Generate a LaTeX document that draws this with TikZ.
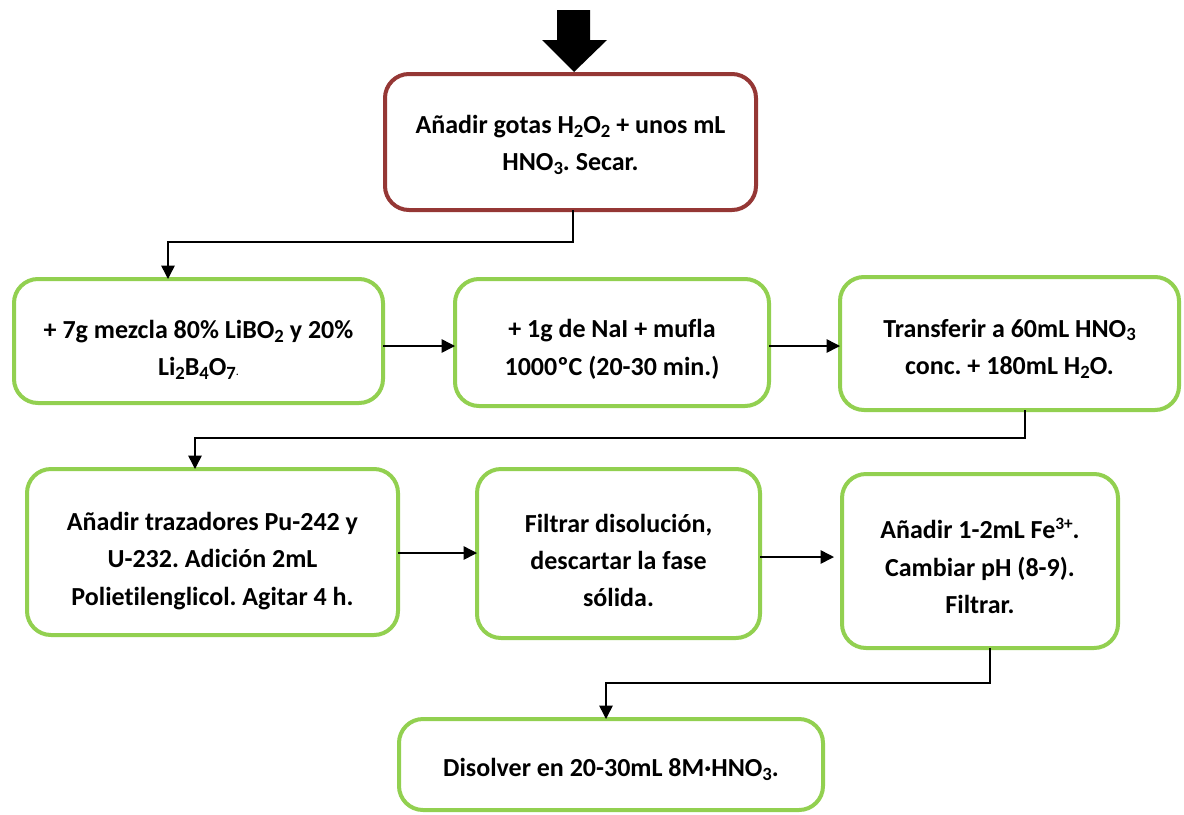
\documentclass[tikz,border=0pt]{standalone}
\usepackage{fontspec}
\setmainfont{Carlito}[Ligatures={NoCommon}]
\usetikzlibrary{arrows.meta,calc}
\definecolor{boxred}{HTML}{953735}
\definecolor{boxgreen}{HTML}{92D050}
\newcommand{\chsub}[1]{\raisebox{-0.3ex}{\fontsize{14}{14}\selectfont #1}}
\newcommand{\chsup}[1]{\raisebox{0.75ex}{\fontsize{13}{13}\selectfont #1}}
\frenchspacing
\begin{document}
\begin{tikzpicture}[x=0.75pt,y=-0.75pt,
  stepbox/.style={draw=boxgreen,line width=3pt,rounded corners=18pt,fill=white,
    inner sep=0pt,outer sep=0pt},
  startbox/.style={stepbox,draw=boxred},
  txt/.style={align=center,font=\bfseries\fontsize{19.5}{28}\selectfont,inner sep=0pt},
  conn/.style={draw=black,line width=1.1pt,-{Triangle[length=10pt,width=10pt]}}]
\useasboundingbox (0,0) rectangle (1184,814);

% process step boxes
\node[startbox,minimum width=278.25pt,minimum height=102pt] (b1) at (570.5,142) {};
\node[stepbox,minimum width=276.75pt,minimum height=93pt] (b2) at (198.5,341) {};
\node[stepbox,minimum width=235.5pt,minimum height=95.25pt] (b3) at (612,342.5) {};
\node[stepbox,minimum width=254.25pt,minimum height=99.75pt] (b4) at (1009.5,343.5) {};
\node[stepbox,minimum width=278.25pt,minimum height=124.5pt] (b5) at (212.5,552) {};
\node[stepbox,minimum width=212.25pt,minimum height=126.75pt] (b6) at (618.5,553.5) {};
\node[stepbox,minimum width=207pt,minimum height=130.5pt] (b7) at (980,561) {};
\node[stepbox,minimum width=318pt,minimum height=68.25pt] (b8) at (611,764.5) {};

% step texts
\node[txt] (t1) at ($(b1.center)+(0,3)$)
  {Añadir gotas H\chsub{2}O\chsub{2} + unos mL\\HNO\chsub{3}. Secar.};
\node[txt] (t2) at ($(b2.center)+(0,9)$)
  {+ 7g mezcla 80\% LiBO\chsub{2} y 20\%\\Li\chsub{2}B\chsub{4}O\chsub{7}{\mdseries\small.}};
\node[txt] (t3) at ($(b3.center)+(0,7)$)
  {+ 1g de NaI + mufla\\1000ºC (20-30 min.)};
\node[txt] (t4) at ($(b4.center)+(0,5)$)
  {Transferir a 60mL HNO\chsub{3}\\conc. + 180mL H\chsub{2}O.};
\node[txt] (t5) at ($(b5.center)+(0,9)$)
  {Añadir trazadores Pu-242 y\\U-232. Adición 2mL\\Polietilenglicol. Agitar 4 h.};
\node[txt] (t6) at ($(b6.center)+(0,7)$)
  {Filtrar disolución,\\descartar la fase\\sólida.};
\node[txt] (t7) at ($(b7.center)+(0,5)$)
  {Añadir 1-2mL Fe\chsup{3+}.\\Cambiar pH (8-9).\\Filtrar.};
\node[txt] (t8) at ($(b8.center)+(0,5)$)
  {Disolver en 20-30mL 8M·HNO\chsub{3}.};

% entry arrow
\fill (557,10) -- (590,10) -- (590,40) -- (607,40) -- (574,72) -- (542,40) -- (557,40) -- cycle;

% elbow bends
\coordinate (k1) at (168,242);
\coordinate (k2) at (195,438);
\coordinate (k3) at (606,683);

% connectors
\draw[conn] (b1.south -| 573,0) |- (k1) -- (k1 |- b2.north);
\draw[conn] (b2.east |- 0,346) -- (b3.west |- 0,346);
\draw[conn] (b3.east |- 0,346) -- (b4.west |- 0,346);
\draw[conn] (b4.south -| 1025,0) |- (k2) -- (k2 |- b5.north);
\draw[conn] (b5.east |- 0,553) -- (b6.west |- 0,553);
\draw[conn,shorten >=6pt] (b6.east |- 0,557) -- (b7.west |- 0,557);
\draw[conn] (b7.south -| 990,0) |- (k3) -- (k3 |- b8.north);
\end{tikzpicture}
\end{document}
